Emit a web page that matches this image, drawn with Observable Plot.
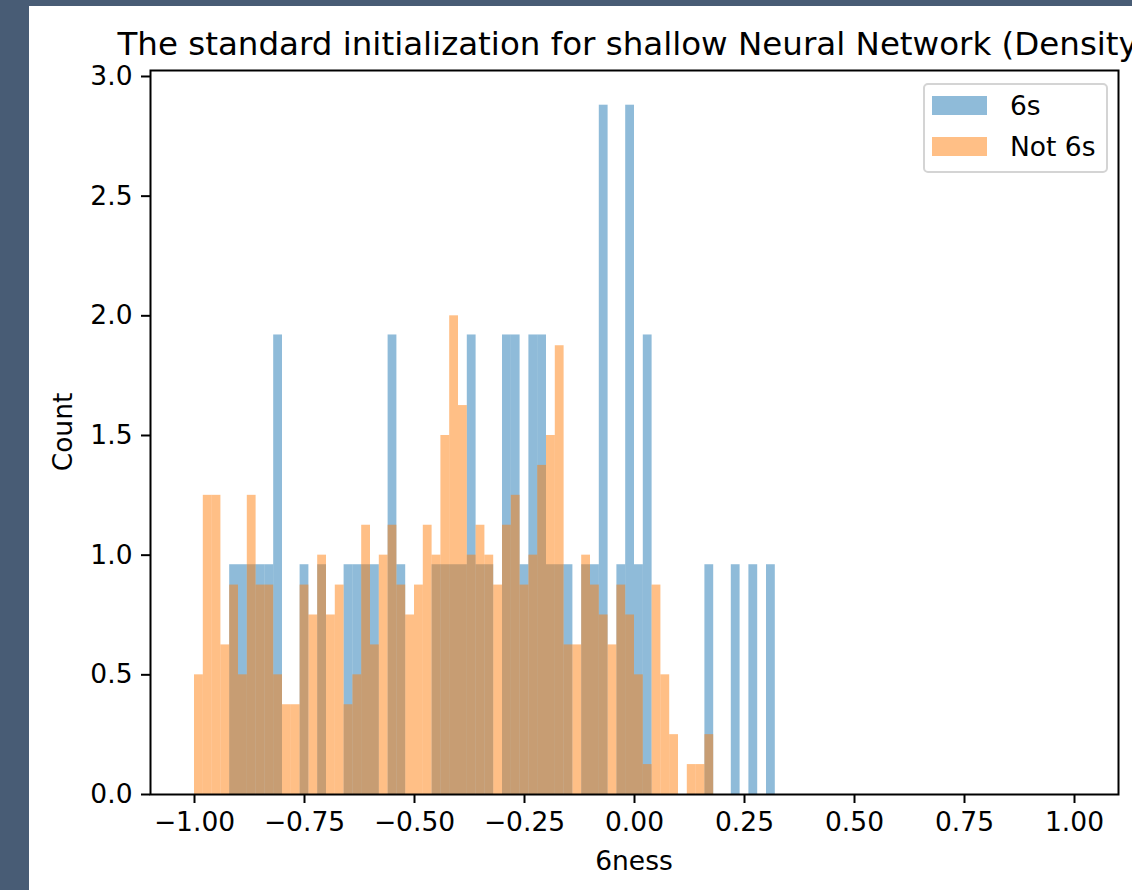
<!DOCTYPE html>
<html>
<head>
<meta charset="utf-8">
<script src="https://cdn.jsdelivr.net/npm/d3@7"></script>
<script src="https://cdn.jsdelivr.net/npm/@observablehq/plot@0.6"></script>
<style>
  html, body { margin: 0; padding: 0; }
  body {
    width: 1132px; height: 890px; overflow: hidden; position: relative;
    background: #485c75;
    font-family: "DejaVu Sans", sans-serif; color: #000;
  }
  #panel { position: absolute; left: 29px; top: 6px; width: 1103px; height: 884px; background: #fff; }
  #chart svg [aria-label*="axis"] path,
  #chart svg [aria-label*="axis"] line { stroke-width: 2px; }
  .title { position: absolute; left: 634px; top: 25px; transform: translateX(-50%);
           white-space: nowrap; font-size: 32.5px; line-height: 38px; }
  .xlabel { position: absolute; left: 634px; top: 845px; transform: translateX(-50%);
            font-size: 26.5px; line-height: 31px; white-space: nowrap; }
  .ylabel { position: absolute; left: 62px; top: 432px; transform: translate(-50%, -50%) rotate(-90deg);
            font-size: 26.5px; line-height: 31px; white-space: nowrap; }
  .legend { position: absolute; left: 923px; top: 83px; width: 181px; height: 86px;
            border: 2px solid #d4d4d4; border-radius: 5px; background: rgba(255,255,255,0.8);
            font-size: 26.5px; }
  .legend .row { position: absolute; left: 7px; height: 20px; }
  .legend .swatch { position: absolute; left: 0; top: 0; width: 55px; height: 19px; }
  .legend .lab { position: absolute; left: 78px; top: -6px; line-height: 31px; white-space: nowrap; }
</style>
</head>
<body>
<div id="panel"><div id="chart"></div></div>
<div class="title">The standard initialization for shallow Neural Network (Density)</div>
<div class="ylabel">Count</div>
<div class="xlabel">6ness</div>
<div class="legend" id="legend"></div>
<script>
// Histogram of "6ness" scores, density-normalised, 0.02-wide bins starting at -1.
const binWidth = 0.02;
const binStart = [-1.00,-0.98,-0.96,-0.94,-0.92,-0.90,-0.88,-0.86,-0.84,-0.82,
  -0.80,-0.78,-0.76,-0.74,-0.72,-0.70,-0.68,-0.66,-0.64,-0.62,
  -0.60,-0.58,-0.56,-0.54,-0.52,-0.50,-0.48,-0.46,-0.44,-0.42,
  -0.40,-0.38,-0.36,-0.34,-0.32,-0.30,-0.28,-0.26,-0.24,-0.22,
  -0.20,-0.18,-0.16,-0.14,-0.12,-0.10,-0.08,-0.06,-0.04,-0.02,
  0.00,0.02,0.04,0.06,0.08,0.10,0.12,0.14,0.16,0.18,
  0.20,0.22,0.24,0.26,0.28,0.30];

// density per bin for the "6s" class
const sixes = [0,0,0,0,0.96,0.96,0.96,0.96,0.96,1.92,
  0,0,0.96,0,0.96,0,0,0.96,0.96,0.96,
  0.96,0,1.92,0.96,0,0,0,0.96,0.96,0.96,
  0.96,1.92,0.96,0.96,0,1.92,1.92,0.96,1.92,1.92,
  0.96,0.96,0.96,0,0.96,0.96,2.88,0,0.96,2.88,
  0.96,1.92,0,0,0,0,0,0,0.96,0,
  0,0.96,0,0.96,0,0.96];

// density per bin for the "Not 6s" class
const notSixes = [0.5,1.25,1.25,0.625,0.875,0.5,1.25,0.875,0.875,0.5,
  0.375,0.375,0.875,0.75,1.0,0.75,0.875,0.375,0.5,1.125,
  0.625,1.0,1.125,0.875,0.75,0.875,1.125,1.0,1.5,2.0,
  1.625,1.0,1.125,1.0,0.875,1.125,1.25,0.875,1.0,1.375,
  1.5,1.875,0.625,0.625,1.0,0.875,0.75,0.625,0.875,0.75,
  0.5,0.125,0.875,0.5,0.25,0,0.125,0.125,0.25,0,
  0,0,0,0,0,0];

const seriesNames = ["6s", "Not 6s"];
const seriesColors = ["#1f77b4", "#ff7f0e"];
const xTicks = [-1.00,-0.75,-0.50,-0.25,0.00,0.25,0.50,0.75,1.00];
const yTicks = [0.0,0.5,1.0,1.5,2.0,2.5,3.0];

const toRows = vals => binStart
  .map((x, i) => ({x1: x, x2: x + binWidth, y: vals[i]}))
  .filter(d => d.y > 0);

const barOpts = color => ({x1: "x1", x2: "x2", y: "y", fill: color, fillOpacity: 0.5,
  insetLeft: 0, insetRight: 0});

const chart = Plot.plot({
  width: 1103,
  height: 884,
  marginLeft: 121,
  marginRight: 14,
  marginTop: 64,
  marginBottom: 96,
  style: {fontFamily: "DejaVu Sans, sans-serif", fontSize: "26.5px", color: "#000", background: "transparent", overflow: "visible"},
  x: {domain: [-1.1, 1.1], ticks: xTicks, tickFormat: d3.format(".2f"), tickSize: 9, tickPadding: 9, label: null},
  y: {domain: [0, 3.025], ticks: yTicks, tickFormat: d3.format(".1f"), tickSize: 9, tickPadding: 9, label: null},
  marks: [
    Plot.rectY(toRows(sixes), barOpts(seriesColors[0])),
    Plot.rectY(toRows(notSixes), barOpts(seriesColors[1])),
    Plot.frame({stroke: "#000", strokeWidth: 2})
  ]
});
document.getElementById("chart").appendChild(chart);

// legend
const legend = document.getElementById("legend");
seriesNames.forEach((name, i) => {
  const row = document.createElement("div");
  row.className = "row";
  row.style.top = (11 + i * 41) + "px";
  const sw = document.createElement("div");
  sw.className = "swatch";
  sw.style.background = seriesColors[i];
  sw.style.opacity = 0.5;
  const lab = document.createElement("div");
  lab.className = "lab";
  lab.textContent = name;
  row.appendChild(sw);
  row.appendChild(lab);
  legend.appendChild(row);
});
</script>
</body>
</html>
